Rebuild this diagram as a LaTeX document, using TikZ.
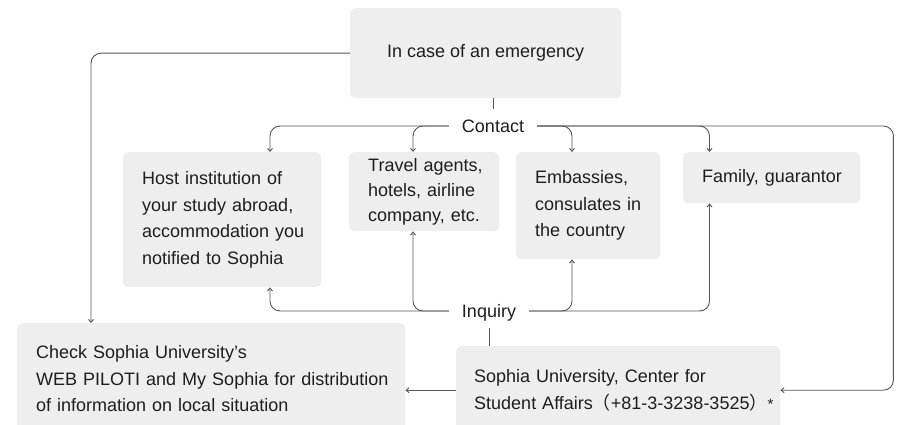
\documentclass[tikz,border=0pt]{standalone}
\usepackage{fontspec}
\setmainfont{Liberation Sans}
\newfontfamily\cjkfont{Noto Sans CJK JP}
\usetikzlibrary{arrows.meta}
\definecolor{boxgray}{HTML}{EEEEEE}
\definecolor{wire}{HTML}{5A5454}
\definecolor{ink}{HTML}{1E1E1E}
\begin{document}
\begin{tikzpicture}[x=1pt,y=-1pt,
  every node/.style={font=\fontsize{18}{26.5}\selectfont, text=ink},
  box/.style={fill=boxgray, rounded corners=5pt, anchor=north west,
    inner xsep=19pt, inner ysep=0pt, align=left},
  hub/.style={text height=13pt, text depth=0pt, inner xsep=13pt, inner ysep=10pt},
  conn/.style={draw=wire, line width=0.9pt, rounded corners=10pt},
  arr/.style={conn, -{Straight Barb[length=3pt,width=5pt]}},
]
\clip (0,0) rectangle (901,425);
\fill[white] (0,0) rectangle (901,425);

% boxes
\node[box, align=center, inner xsep=0pt, minimum width=271pt, minimum height=90pt]
  (top) at (350,8) {In case of an emergency};
\node[box, text width=160pt, minimum height=135pt] (host) at (123,152)
  {\mbox{Host institution of}\\\mbox{your study abroad,}\\\mbox{accommodation you}\\\mbox{notified to Sophia}};
\node[box, text width=112pt, minimum height=79pt, font=\fontsize{18}{25}\selectfont]
  (travel) at (349,152) {\mbox{Travel agents,}\\\mbox{hotels, airline}\\\mbox{company, etc.}};
\node[box, text width=106pt, inner xsep=19pt, minimum height=107pt] (emb) at (516,152)
  {\mbox{Embassies,}\\\mbox{consulates in}\\\mbox{the country}};
\node[box, text width=139pt, minimum height=51pt] (family) at (683,152)
  {\mbox{Family, guarantor}};
\node[box, text width=350pt, minimum height=111pt] (check) at (17,323)
  {\mbox{Check Sophia University’s}\\\mbox{WEB PILOTI and My Sophia for distribution}\\\mbox{of information on local situation}};
\node[box, text width=288pt, inner xsep=18pt, minimum height=88pt] (sophia) at (456,346)
  {\mbox{Sophia University, Center for}\\\mbox{Student Affairs{\cjkfont （}+81-3-3238-3525{\cjkfont ）}{\fontsize{15}{15}\selectfont *}}};

% hubs
\node[hub] (contact) at (493,126) {Contact};
\node[hub] (inquiry) at (489,311) {Inquiry};

% emergency -> contact, and -> web notices
\draw[conn] (top.south -| contact.north) -- (contact.north);
\draw[arr] (top.west) -| ([xshift=74pt]check.north west);

% contact branches
\draw[arr] (contact.west) -| ([xshift=147pt]host.north west);
\draw[arr] (contact.west) -| ([xshift=64pt]travel.north west);
\draw[arr] (contact.east) -| ([xshift=56pt]emb.north west);
\draw[arr] (contact.east) -| ([xshift=26.5pt]family.north west);
\draw[arr] (contact.east) -| ([xshift=113pt]sophia.east) -- (sophia.east);

% inquiry branches
\draw[conn] (inquiry.south) -- (inquiry.south |- sophia.north);
\draw[arr] (inquiry.west) -| ([xshift=147pt]host.south west);
\draw[arr] (inquiry.west) -| ([xshift=64pt]travel.south west);
\draw[arr] (inquiry.east) -| ([xshift=56pt]emb.south west);
\draw[arr] (inquiry.east) -| ([xshift=26.5pt]family.south west);

% student affairs -> web notices
\draw[arr] (sophia.west) -- (sophia.west -| check.east);
\end{tikzpicture}
\end{document}
